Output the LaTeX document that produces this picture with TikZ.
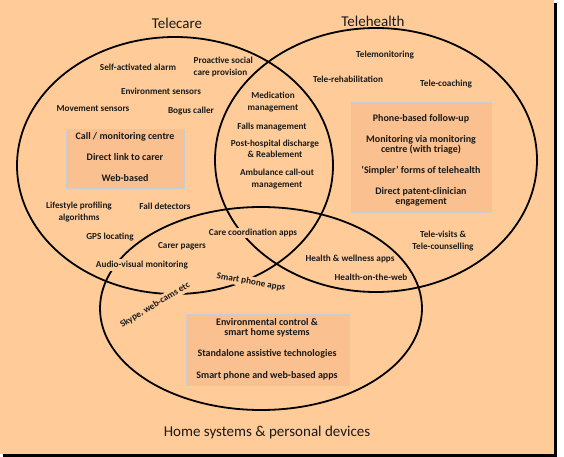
\documentclass[tikz,border=0pt]{standalone}
\usepackage{fontspec}
\setmainfont{Carlito}
\definecolor{bg}{HTML}{FFCC99}
\definecolor{boxfill}{HTML}{FAC08F}
\definecolor{boxline}{HTML}{C9CDD2}
\definecolor{ink}{HTML}{1A1A1A}
\begin{document}
\begin{tikzpicture}[x=1pt,y=-1pt,
  lbl/.style={font=\fontsize{9.2}{11.5}\selectfont\bfseries, text=ink, inner sep=1.5pt, align=center},
  blbl/.style={font=\fontsize{10}{10.5}\selectfont\bfseries, text=ink, inner sep=0pt, align=center},
  ttl/.style={font=\fontsize{15}{18}\selectfont, text=ink},
  gap/.style={fill=bg},
  ring/.style={line width=1.8pt, draw=black},
  panel/.style={draw=boxline, fill=boxfill, line width=0.9pt, inner sep=0pt}]
\useasboundingbox (0,0) rectangle (564,457);
% background with shadow
\fill[black] (3,3) rectangle (557,457);
\fill[bg] (0,0) rectangle (554,454);
% the three sets
\draw[ring] (175,165.5) ellipse [x radius=158pt, y radius=128.5pt];
\draw[ring] (376,160) ellipse [x radius=161pt, y radius=132pt];
\draw[ring] (261,308.5) ellipse [x radius=161pt, y radius=101.5pt];
% titles
\node[ttl] (tTelecare) at (177,23) {Telecare};
\node[ttl] (tTelehealth) at (373,21) {Telehealth};
\node[ttl] (tHome) at (267,432) {Home systems \& personal devices};
% Telecare
\node[lbl] (selfalarm) at (138,67) {Self-activated alarm};
\node[lbl, anchor=west, align=left] (proactive) at (192,67) {Proactive social\\care provision};
\node[lbl] (envsens) at (161,91) {Environment sensors};
\node[lbl] (movsens) at (93,109) {Movement sensors};
\node[lbl] (bogus) at (191,111) {Bogus caller};
\node[panel, minimum width=118pt, minimum height=59pt] (tcbox) at (125,158.5) {};
\node[blbl] (callcentre) at (125,137) {Call / monitoring centre};
\node[blbl] (directlink) at (125,157) {Direct link to carer};
\node[blbl] (webbased) at (125,178) {Web-based};
\node[lbl] (lifestyle) at (79,212) {Lifestyle profiling\\algorithms};
\node[lbl] (falldet) at (165,206) {Fall detectors};
\node[lbl] (gps) at (110,237) {GPS locating};
\node[lbl] (pagers) at (182,246) {Carer pagers};
\node[lbl, gap] (audiovis) at (142,265) {Audio-visual monitoring};
\node[lbl, gap] (carecoord) at (253,233) {Care coordination apps};
\node[lbl, gap, rotate=-10] (smartapps) at (251,282) {Smart phone apps};
\node[lbl, gap, rotate=31] (skype) at (155,305) {Skype, web-cams etc};
% Telecare & Telehealth
\node[lbl] (medication) at (273,102) {Medication\\management};
\node[lbl] (falls) at (272,127) {Falls management};
\node[lbl] (posthosp) at (275,149) {Post-hospital discharge\\\& Reablement};
\node[lbl] (ambulance) at (277,179) {Ambulance call-out\\management};
% Telehealth
\node[lbl] (telemon) at (385,55) {Telemonitoring};
\node[lbl] (telerehab) at (348,79) {Tele-rehabilitation};
\node[lbl] (telecoach) at (446,84) {Tele-coaching};
\node[panel, minimum width=140pt, minimum height=110pt] (thbox) at (421,157) {};
\node[blbl] (phonefu) at (421,119) {Phone-based follow-up};
\node[blbl] (monvia) at (421,145) {Monitoring via monitoring\\centre (with triage)};
\node[blbl] (simpler) at (421,171) {‘Simpler’ forms of telehealth};
\node[blbl] (direct) at (421,197) {Direct patent-clinician\\engagement};
\node[lbl] (televisits) at (443,241) {Tele-visits \&\\Tele-counselling};
\node[lbl] (wellness) at (350,259) {Health \& wellness apps};
\node[lbl] (healthweb) at (371,277) {Health-on-the-web};
% Home systems
\node[panel, minimum width=163pt, minimum height=71pt] (hsbox) at (267.5,349.5) {};
\node[blbl] (envctrl) at (267,328) {Environmental control \&\\smart home systems};
\node[blbl] (standalone) at (267,354) {Standalone assistive technologies};
\node[blbl] (smartweb) at (267,376) {Smart phone and web-based apps};
\end{tikzpicture}
\end{document}
